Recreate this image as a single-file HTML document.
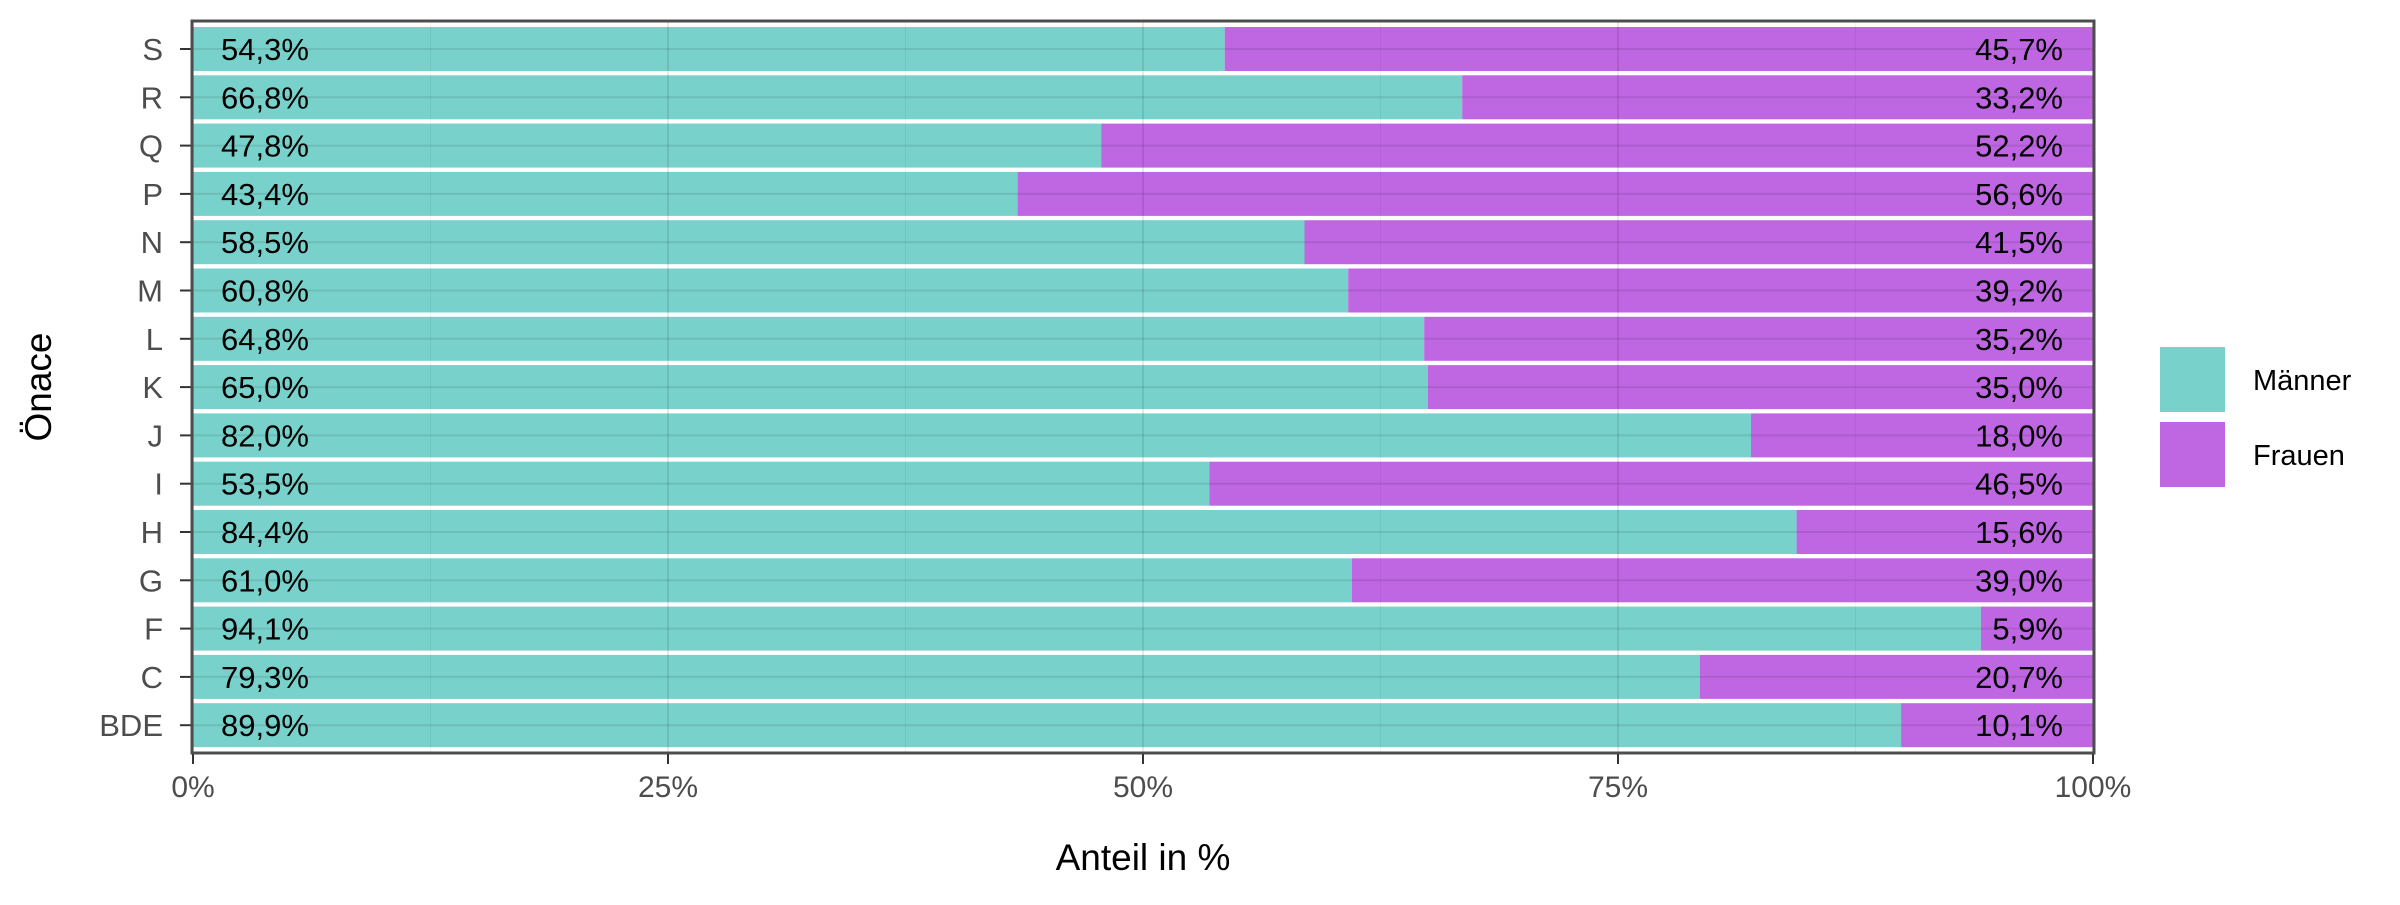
<!DOCTYPE html>
<html><head><meta charset="utf-8"><style>
body{margin:0;background:#fff}
svg text{font-family:"Liberation Sans",Arial,sans-serif}
</style></head><body>
<svg width="2400" height="900" xmlns="http://www.w3.org/2000/svg">
<g id="plot"></g>
</svg>
<script>
const categories=["S","R","Q","P","N","M","L","K","J","I","H","G","F","C","BDE"];
const maenner=[54.3,66.8,47.8,43.4,58.5,60.8,64.8,65.0,82.0,53.5,84.4,61.0,94.1,79.3,89.9];
const frauen=[45.7,33.2,52.2,56.6,41.5,39.2,35.2,35.0,18.0,46.5,15.6,39.0,5.9,20.7,10.1];
const xTicks=[0,25,50,75,100];
const xTickLabels=["0%","25%","50%","75%","100%"];
const seriesNames=["Männer","Frauen"];
const colors=["#78d1cb","#bf66e3"];

const NS="http://www.w3.org/2000/svg";
const g=document.getElementById('plot');
const L=193,R=2093,T=21,B=753;
const x=v=>L+(R-L)*v/100;
const pitch=48.3;
const y=i=>49+i*pitch;
const bh=44;
function el(tag,attrs,parent){const e=document.createElementNS(NS,tag);for(const k in attrs)e.setAttribute(k,attrs[k]);(parent||g).appendChild(e);return e;}
function fmt(v){return v.toFixed(1).replace('.',',')+'%';}

categories.forEach((c,i)=>{
  const cy=y(i);
  const b1=el('rect',{x:x(0),y:cy-bh/2,width:x(maenner[i])-x(0),height:bh,fill:colors[0]});
  
  
  const b2=el('rect',{x:x(maenner[i]),y:cy-bh/2,width:x(100)-x(maenner[i]),height:bh,fill:colors[1]});
  
  
});
// gridlines over bars (faint)
for(let v=0;v<=100;v+=12.5){
  const l=el('line',{x1:x(v),x2:x(v),y1:T,y2:B,stroke:'#000','stroke-opacity':v%25===0?0.09:0.05,'stroke-width':v%25===0?2:1});
  
  
}
categories.forEach((c,i)=>{
  const cy=y(i);
  const gl=el('line',{x1:L,x2:R,y1:cy,y2:cy,stroke:'#000','stroke-opacity':0.09,'stroke-width':2});
  
  
  const t1=el('text',{x:221,y:cy+11,'font-size':31,fill:'#000'});t1.textContent=fmt(maenner[i]);
  
  
  const t2=el('text',{x:2063,y:cy+11,'font-size':31,fill:'#000','text-anchor':'end'});t2.textContent=fmt(frauen[i]);
  
  
  const yl=el('text',{x:163,y:cy+11,'font-size':31,fill:'#4d4d4d','text-anchor':'end'});yl.textContent=c;
  
  
  const tk=el('line',{x1:180,x2:192,y1:cy,y2:cy,stroke:'#333','stroke-width':2});
  
  
});
const fr=el('rect',{x:192,y:21,width:1902,height:732,fill:'none',stroke:'#4d4d4d','stroke-width':3});


xTicks.forEach((v,i)=>{
  const tk=el('line',{x1:x(v),x2:x(v),y1:754,y2:764,stroke:'#333','stroke-width':2});
  
  
  const t=el('text',{x:x(v),y:797,'font-size':30,fill:'#4d4d4d','text-anchor':'middle'});t.textContent=xTickLabels[i];
  
  
});
const xt=el('text',{x:1143,y:870,'font-size':37,fill:'#000','text-anchor':'middle'});xt.textContent='Anteil in %';


const yt=el('text',{x:0,y:0,'font-size':37,fill:'#000','text-anchor':'middle',transform:'translate(51,387) rotate(-90)'});yt.textContent='Önace';


seriesNames.forEach((n,i)=>{
  const ky=347+i*75;
  const k=el('rect',{x:2160,y:ky,width:65,height:65,fill:colors[i]});
  
  
  const t=el('text',{x:2253,y:ky+43,'font-size':29,fill:'#000'});t.textContent=n;
  
  
});
</script>
</body></html>
